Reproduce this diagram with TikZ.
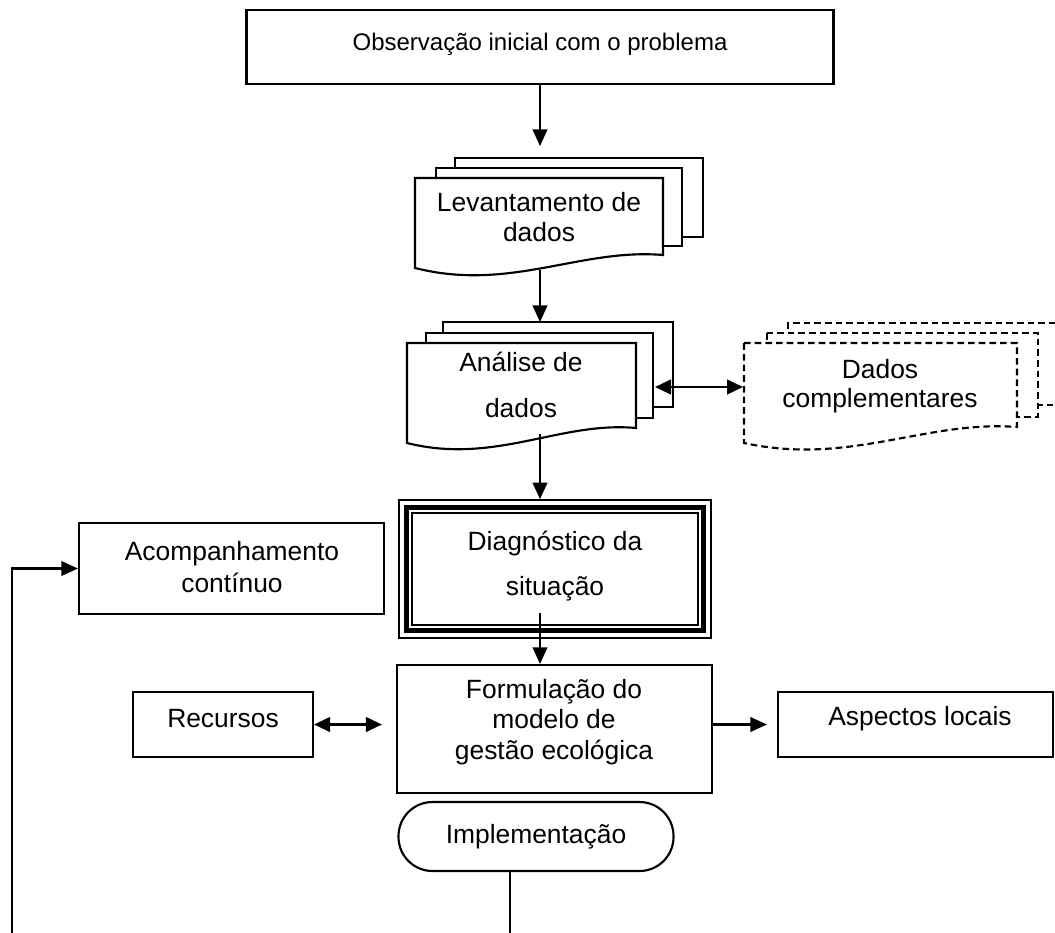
\documentclass[tikz,border=0pt]{standalone}
\usepackage{fontspec}
\setmainfont{Liberation Sans}
\usetikzlibrary{arrows.meta,calc}
\begin{document}
\begin{tikzpicture}[x=0.75pt,y=-0.75pt,
  every node/.style={font=\fontsize{19.8}{23}\selectfont, align=center},
  ln/.style={line width=1.6pt},
  arr/.style={ln,-{Triangle[length=12.5pt,width=11pt]}},
  darr/.style={ln,{Triangle[length=12pt,width=11pt]}-{Triangle[length=12pt,width=11pt]}},
  box/.style={draw, ln, rectangle, inner sep=0pt},
  page/.style={ln, fill=white, line join=miter},
  dpage/.style={page, dash pattern=on 5pt off 3pt},
  txt/.style={inner sep=0pt}
]
\useasboundingbox (0,0) rectangle (1055,932);

% Observacao
\node[box, minimum width=440.25pt, minimum height=55.5pt] (obs) at (540,47) {};
\node[txt, font=\fontsize{18}{22}\selectfont] (obst) at (540,44) {Observação inicial com o problema};

% Levantamento de dados (multi-document)
\draw[page] (455,158) rectangle (703,237);
\draw[page] (436,168) rectangle (682,246);
\draw[page] (415,178) -- (663,178) -- (663,255) .. controls (580,248) and (510,292) .. (415,268) -- cycle;
\node[txt] (levt) at (539,217) {Levantamento de\\dados};
\coordinate (levin) at (540,146);
\coordinate (levout) at (540,270);

% Analise de dados (multi-document)
\draw[page] (443,322) rectangle (673,407);
\draw[page] (426,333) rectangle (653,418);
\draw[page] (407,343) -- (636,343) -- (636,428) .. controls (560,421) and (495,465) .. (407,443) -- cycle;
\node[txt] (anat) at (521,385) {Análise de\\[11.5pt]dados};
\coordinate (anain) at (540,322);
\coordinate (anaout) at (540,434);
\coordinate (anaR) at (655,387);

% Dados complementares (dashed multi-document)
\draw[dpage] (1055.5,323) -| (788,405) -- (1055.5,405);
\draw[dpage] (767,333) rectangle (1038,417);
\draw[dpage] (744,343) -- (1017,343) -- (1017,427) .. controls (925,420) and (850,466) .. (744,443) -- cycle;
\node[txt] (datt) at (880,386) {Dados\\[-1pt]complementares};
\coordinate (datL) at (743,387);

% Diagnostico (triple border)
\node[draw, line width=1.2pt, rectangle, minimum width=234pt, minimum height=103.5pt] (diag) at (555,569) {};
\draw[line width=3.8pt] ($(diag.north west)+(8.5,8.5)$) rectangle ($(diag.south east)+(-8.5,-8.5)$);
\draw[line width=1.2pt] ($(diag.north west)+(14,14)$) rectangle ($(diag.south east)+(-14,-14)$);
\node[txt] (diagt) at (555,566) {Diagnóstico da\\[11pt]situação};
\coordinate (diagout) at (540,613);

% Acompanhamento
\node[box, minimum width=228.75pt, minimum height=68.25pt] (acomp) at (231.5,568.5) {};
\node[txt] (acompt) at (232,567) {Acompanhamento\\[1.5pt]contínuo};

% Formulacao
\node[box, minimum width=236.25pt, minimum height=96pt] (form) at (554.5,729) {};
\node[txt] (formt) at (554,722) {Formulação do\\modelo de\\gestão ecológica};

% Recursos
\node[box, minimum width=135pt, minimum height=48.75pt] (rec) at (223,724.5) {};
\node[txt] (rect) at (223,719) {Recursos};

% Aspectos locais
\node[box, minimum width=206.25pt, minimum height=48.75pt] (asp) at (915.5,724.5) {};
\node[txt] (aspt) at (920,719) {Aspectos locais};

% Implementacao
\node[draw, ln, rounded corners=25.5pt, minimum width=206.25pt, minimum height=51.75pt, inner sep=0pt] (impl) at (536,836.5) {Implementação};

% connectors
\coordinate (lb) at (12,932.5);
\coordinate (implend) at (510,932.5);
\draw[arr] (obs.south -| levin) -- (levin);
\draw[arr] (levout) -- (anain);
\draw[arr] (anaout) -- (diag.north -| anaout);
\draw[darr] (anaR) -- (datL);
\draw[arr] (diagout) -- (form.north -| diagout);
\draw[darr] (rec.east) -- ($(form.west |- rec.east)+(-14,0)$);
\draw[arr] (form.east |- asp.west) -- ($(asp.west)+(-10,0)$);
\draw[arr] (lb) |- (acomp.west);
\draw[ln] (impl.south -| implend) -- (implend);
\end{tikzpicture}
\end{document}
